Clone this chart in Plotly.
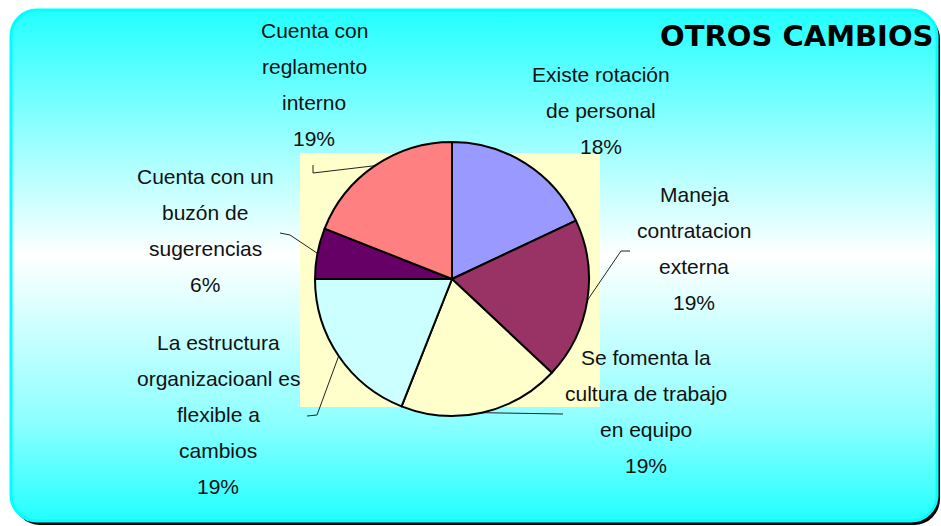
import base64
import numpy as np
import plotly.graph_objects as go

# data
labels = ["Existe rotación de personal", "Maneja contratacion externa",
          "Se fomenta la cultura de trabajo en equipo",
          "La estructura organizacioanl es flexible a cambios",
          "Cuenta con un buzón de sugerencias", "Cuenta con reglamento interno"]
values = [18, 19, 19, 19, 6, 19]
label_lines = [
    ["Existe rotación", "de personal"],
    ["Maneja", "contratacion", "externa"],
    ["Se fomenta la", "cultura de trabajo", "en equipo"],
    ["La estructura", "organizacioanl es", "flexible a", "cambios"],
    ["Cuenta con un", "buzón de", "sugerencias"],
    ["Cuenta con", "reglamento", "interno"],
]
colors = ["#9999FF", "#993366", "#FFFFCC", "#CCFFFF", "#660066", "#FF8080"]

W, H = 941, 526
cx, cy, R = 452, 279, 137

# label placement (center x, first line y) and leader elbows
label_pos = [(601, 74), (694, 194), (646, 357), (218, 342), (205, 176), (314, 30)]
leader_tail = [None, [(621, 251), (630, 251)], [(557, 414), (563, 414)],
               [(317, 415), (307, 416)], [(290, 235), (280, 233)],
               [(313, 173), (313, 165)]]

# background: rounded gradient panel with dark shadow
svg = f"""<svg xmlns='http://www.w3.org/2000/svg' width='{W}' height='{H}'>
<defs><linearGradient id='g' x1='0' y1='0' x2='0' y2='1'>
<stop offset='0' stop-color='#22FFFF'/><stop offset='0.2' stop-color='#80FFFF'/>
<stop offset='0.48' stop-color='#FFFFFF'/><stop offset='0.8' stop-color='#90FFFF'/>
<stop offset='1' stop-color='#22FFFF'/></linearGradient></defs>
<rect x='14' y='13' width='926' height='512' rx='26' fill='#000'/>
<rect x='11' y='10' width='926' height='511' rx='26' fill='url(#g)' stroke='#00FFFF' stroke-width='3'/>
</svg>"""
bg_src = "data:image/svg+xml;base64," + base64.b64encode(svg.encode()).decode()

fig = go.Figure()

# leader lines from slice edge to label
vals = np.array(values, dtype=float)
mid = (np.cumsum(vals) - vals / 2) / vals.sum() * 2 * np.pi
lx, ly = [], []
for i, tail in enumerate(leader_tail):
    if tail is None:
        continue
    lx += [cx + R * np.sin(mid[i])] + [p[0] for p in tail] + [None]
    ly += [cy - R * np.cos(mid[i])] + [p[1] for p in tail] + [None]
fig.add_trace(go.Scatter(x=lx, y=ly, mode="lines", line=dict(color="#222", width=1),
                         hoverinfo="skip", showlegend=False))

fig.add_trace(go.Pie(
    labels=labels, values=values, sort=False, direction="clockwise", rotation=0,
    marker=dict(colors=colors, line=dict(color="black", width=2)),
    textinfo="none", showlegend=False,
    domain=dict(x=[(cx - R) / W, (cx + R) / W], y=[1 - (cy + R) / H, 1 - (cy - R) / H])
))

annotations = []
for i, lines in enumerate(label_lines):
    x0, y0 = label_pos[i]
    for j, t in enumerate(lines + [f"{values[i]}%"]):
        annotations.append(dict(x=x0, y=y0 + j * 36, xref="x", yref="y", text=t,
                                showarrow=False, xanchor="center", yanchor="middle",
                                font=dict(family="Liberation Sans, Arial", size=21, color="#111")))
annotations.append(dict(x=935, y=36, xref="x", yref="y", text="<b>OTROS CAMBIOS</b>",
                        showarrow=False, xanchor="right", yanchor="middle",
                        font=dict(family="DejaVu Sans", size=29, color="black")))

fig.update_layout(
    width=W, height=H, margin=dict(l=0, r=0, t=0, b=0),
    paper_bgcolor="white", plot_bgcolor="rgba(0,0,0,0)",
    xaxis=dict(range=[0, W], visible=False, fixedrange=True),
    yaxis=dict(range=[H, 0], visible=False, fixedrange=True),
    images=[dict(source=bg_src, xref="paper", yref="paper", x=0, y=1, sizex=1, sizey=1,
                 xanchor="left", yanchor="top", sizing="stretch", layer="below")],
    shapes=[dict(type="rect", xref="x", yref="y", x0=300, x1=600, y0=153, y1=407,
                 fillcolor="#FFFFCC", line=dict(width=0), layer="below")],
    annotations=annotations,
)

fig.write_html("out.html", config=dict(displayModeBar=False),
               post_script="document.body.style.margin='0';document.body.style.overflow='hidden';")
